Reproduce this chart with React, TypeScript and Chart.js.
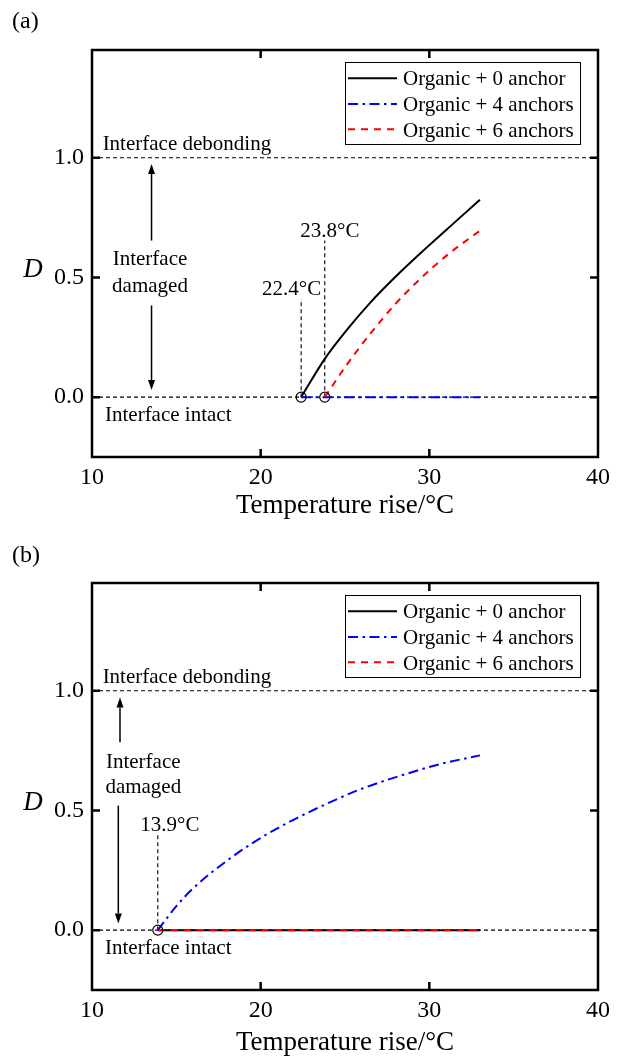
import React, { useEffect, useRef } from "react";
import { Chart, registerables } from "chart.js";

Chart.register(...registerables);

const SERIF = '"Liberation Serif", "Times New Roman", serif';

// ---------- shared labels / axes ----------
const legendLabels = ["Organic + 0 anchor", "Organic + 4 anchors", "Organic + 6 anchors"];
const xTicks = [10, 20, 30, 40];
const yTicks = [0, 0.5, 1.0];
const thresholds = [0, 1.0];
const xTitle = "Temperature rise/°C";
const yTitle = "D";

// ---------- panel (a) data ----------
const aBlackT = [22.4, 23.8, 25.1, 26.5, 28.1, 30.0, 31.5, 33.0];
const aBlackD = [0, 0.16, 0.28, 0.395, 0.51, 0.635, 0.73, 0.825];
const aBlueT = [22.4, 33.0];
const aBlueD = [0, 0];
const aRedT = [23.8, 25.1, 26.5, 28.0, 29.4, 31.0, 32.6, 33.0];
const aRedD = [0, 0.135, 0.265, 0.39, 0.49, 0.59, 0.675, 0.695];
const aOnsetT = [22.4, 23.8];
const aOnsetTop = [0.41, 0.654];

// ---------- panel (b) data ----------
const bBlackT = [13.9, 33.0];
const bBlackD = [0, 0];
const bBlueT = [13.9, 15.0, 16.0, 18.0, 20.0, 22.0, 24.3, 25.9, 28.6, 30.6, 33.0];
const bBlueD = [0, 0.1, 0.175, 0.29, 0.385, 0.463, 0.54, 0.588, 0.652, 0.693, 0.73];
const bRedT = [13.9, 33.0];
const bRedD = [0, 0];
const bOnsetT = [13.9];
const bOnsetTop = [0.396];

// ---------- styles ----------
const seriesColors = ["#000000", "#0000ff", "#ff0000"];
const seriesDashes: number[][] = [[], [10, 4.5, 2.5, 4.5], [7, 6]];

type Panel = {
  tag: string;
  top: number;
  canvasH: number;
  plotTop: number;
  plotBottom: number;
  titlePad: number;
  tagTop: number;
  t: number[][];
  d: number[][];
  onsetT: number[];
  onsetTop: number[];
  onsetLabel: [number, number][];
  damaged: [number, number, number]; // x, line1 y, line2 y
  up: [number, number, number]; // x, from, to
  down: [number, number, number];
};

const panels: Panel[] = [
  {
    tag: "(a)",
    top: 0,
    canvasH: 530,
    plotTop: 50,
    plotBottom: 457,
    titlePad: 8,
    tagTop: 7,
    t: [aBlackT, aBlueT, aRedT],
    d: [aBlackD, aBlueD, aRedD],
    onsetT: aOnsetT,
    onsetTop: aOnsetTop,
    onsetLabel: [
      [21.84, 0.449],
      [24.1, 0.692],
    ],
    damaged: [13.44, 0.574, 0.464],
    up: [13.53, 0.654, 0.974],
    down: [13.53, 0.383, 0.03],
  },
  {
    tag: "(b)",
    top: 530,
    canvasH: 529,
    plotTop: 53,
    plotBottom: 460,
    titlePad: 0,
    tagTop: 11,
    t: [bBlackT, bBlueT, bRedT],
    d: [bBlackD, bBlueD, bRedD],
    onsetT: bOnsetT,
    onsetTop: bOnsetTop,
    onsetLabel: [[14.62, 0.4375]],
    damaged: [13.04, 0.7, 0.595],
    up: [11.66, 0.785, 0.972],
    down: [11.56, 0.52, 0.028],
  },
];

function pts(t: number[], d: number[]) {
  return t.map((x, i) => ({ x, y: d[i] }));
}

function arrow(ctx: CanvasRenderingContext2D, x: number, y1: number, y2: number) {
  const sign = y2 > y1 ? 1 : -1;
  const hl = 10;
  ctx.beginPath();
  ctx.moveTo(x, y1);
  ctx.lineTo(x, y2 - sign * hl);
  ctx.stroke();
  ctx.beginPath();
  ctx.moveTo(x, y2);
  ctx.lineTo(x - 3.5, y2 - sign * hl);
  ctx.lineTo(x + 3.5, y2 - sign * hl);
  ctx.closePath();
  ctx.fill();
}

function decorPlugin(p: Panel) {
  return {
    id: "decor",
    afterDatasetsDraw(chart: any) {
      const ctx: CanvasRenderingContext2D = chart.ctx;
      const { left, right, top, bottom } = chart.chartArea;
      const xs = chart.scales.x;
      const ys = chart.scales.y;
      const X = (v: number) => xs.getPixelForValue(v);
      const Y = (v: number) => ys.getPixelForValue(v);
      ctx.save();
      ctx.setLineDash([]);
      ctx.strokeStyle = "#000";
      ctx.fillStyle = "#000";

      // frame
      ctx.lineWidth = 2.5;
      ctx.strokeRect(left, top, right - left, bottom - top);
      // inward ticks (mirrored)
      const tl = 8;
      ctx.beginPath();
      xTicks
        .filter((v) => v > xs.min && v < xs.max)
        .forEach((v) => {
          const px = X(v);
          ctx.moveTo(px, bottom);
          ctx.lineTo(px, bottom - tl);
          ctx.moveTo(px, top);
          ctx.lineTo(px, top + tl);
        });
      yTicks.forEach((v) => {
        const py = Y(v);
        ctx.moveTo(left, py);
        ctx.lineTo(left + tl, py);
        ctx.moveTo(right, py);
        ctx.lineTo(right - tl, py);
      });
      ctx.stroke();

      // y title (upright italic)
      ctx.font = `italic 27px ${SERIF}`;
      ctx.textAlign = "center";
      ctx.textBaseline = "middle";
      ctx.fillText(yTitle, 33, top + 220);

      // annotations
      ctx.font = `21px ${SERIF}`;
      ctx.textAlign = "left";
      ctx.fillText("Interface debonding", X(10.63), Y(1.054));
      ctx.fillText("Interface intact", X(10.77), Y(-0.075));
      ctx.textAlign = "center";
      ctx.fillText("Interface", X(p.damaged[0]), Y(p.damaged[1]));
      ctx.fillText("damaged", X(p.damaged[0]), Y(p.damaged[2]));
      p.onsetT.forEach((t, i) => {
        const [lx, ly] = p.onsetLabel[i];
        ctx.fillText(`${t.toFixed(1)}°C`, X(lx), Y(ly));
      });
      ctx.lineWidth = 1.5;
      arrow(ctx, X(p.up[0]), Y(p.up[1]), Y(p.up[2]));
      arrow(ctx, X(p.down[0]), Y(p.down[1]), Y(p.down[2]));

      // legend
      const bx = 345,
        bw = 235,
        by = top + 12,
        bh = 82;
      ctx.fillStyle = "#fff";
      ctx.fillRect(bx, by, bw, bh);
      ctx.lineWidth = 1;
      ctx.strokeStyle = "#000";
      ctx.strokeRect(bx + 0.5, by + 0.5, bw, bh);
      const lineY = [28.3, 54, 79.3];
      const textY = [35, 60.7, 86.7];
      legendLabels.forEach((lab, i) => {
        ctx.beginPath();
        ctx.strokeStyle = seriesColors[i];
        ctx.lineWidth = 2;
        ctx.setLineDash(seriesDashes[i]);
        ctx.moveTo(348, top + lineY[i]);
        ctx.lineTo(397, top + lineY[i]);
        ctx.stroke();
        ctx.setLineDash([]);
        ctx.fillStyle = "#000";
        ctx.font = `21px ${SERIF}`;
        ctx.textAlign = "left";
        ctx.textBaseline = "alphabetic";
        ctx.fillText(lab, 403, top + textY[i]);
      });
      ctx.restore();
    },
  };
}

function buildConfig(p: Panel): any {
  const datasets: any[] = [];
  // onset circles (on top)
  datasets.push({
    data: pts(p.onsetT, p.onsetT.map(() => 0)),
    showLine: false,
    pointRadius: 5,
    pointStyle: "circle",
    pointBackgroundColor: "rgba(0,0,0,0)",
    pointBorderColor: "#000",
    pointBorderWidth: 1.2,
  });
  // curves: red, blue, black (lower index drawn on top)
  [2, 1, 0].forEach((k) => {
    datasets.push({
      label: legendLabels[k],
      data: pts(p.t[k], p.d[k]),
      borderColor: seriesColors[k],
      borderWidth: 2,
      borderDash: seriesDashes[k],
      pointRadius: 0,
      fill: false,
      cubicInterpolationMode: "monotone",
    });
  });
  // onset vertical guide lines
  p.onsetT.forEach((t, i) => {
    datasets.push({
      data: pts([t, t], [0, p.onsetTop[i]]),
      borderColor: "#000",
      borderWidth: 1.1,
      borderDash: [4, 3],
      pointRadius: 0,
    });
  });
  // threshold lines
  thresholds.forEach((v) => {
    datasets.push({
      data: pts([xTicks[0], xTicks[xTicks.length - 1]], [v, v]),
      borderColor: "#000",
      borderWidth: 1.1,
      borderDash: [4, 3],
      pointRadius: 0,
    });
  });

  return {
    type: "line",
    data: { datasets },
    options: {
      animation: false,
      responsive: false,
      maintainAspectRatio: false,
      layout: { padding: { top: p.plotTop, right: 24, left: 0, bottom: 0 } },
      plugins: { legend: { display: false }, tooltip: { enabled: false }, title: { display: false } },
      scales: {
        x: {
          type: "linear",
          min: xTicks[0],
          max: xTicks[xTicks.length - 1],
          position: "bottom",
          afterBuildTicks: (s: any) => {
            s.ticks = xTicks.map((v) => ({ value: v }));
          },
          afterFit: (s: any) => {
            s.height = p.canvasH - p.plotBottom;
          },
          ticks: {
            color: "#000",
            font: { family: SERIF, size: 24 },
            padding: 6,
            maxRotation: 0,
            callback: (v: any) => String(v),
          },
          grid: { display: false, drawTicks: false },
          border: { display: false },
          title: {
            display: true,
            text: xTitle,
            color: "#000",
            font: { family: SERIF, size: 27 },
            padding: { top: 0, bottom: p.titlePad },
          },
        },
        y: {
          type: "linear",
          min: -0.25,
          max: 1.45,
          afterBuildTicks: (s: any) => {
            s.ticks = yTicks.map((v) => ({ value: v }));
          },
          afterFit: (s: any) => {
            s.width = 92;
          },
          ticks: {
            color: "#000",
            font: { family: SERIF, size: 24 },
            padding: 8,
            callback: (v: any) => Number(v).toFixed(1),
          },
          grid: { display: false, drawTicks: false },
          border: { display: false },
        },
      },
    },
    plugins: [decorPlugin(p)],
  };
}

function PanelChart({ p }: { p: Panel }) {
  const ref = useRef<HTMLCanvasElement>(null);
  useEffect(() => {
    if (!ref.current) return;
    const chart = new Chart(ref.current, buildConfig(p));
    return () => chart.destroy();
  }, [p]);
  return (
    <div style={{ position: "absolute", left: 0, top: p.top, width: 622, height: p.canvasH }}>
      <canvas
        ref={ref}
        width={622}
        height={p.canvasH}
        style={{ display: "block", width: 622, height: p.canvasH }}
      />
      <div
        style={{
          position: "absolute",
          left: 12,
          top: p.tagTop,
          fontFamily: SERIF,
          fontSize: 24,
          lineHeight: "26px",
          color: "#000",
        }}
      >
        {p.tag}
      </div>
    </div>
  );
}

export default function App() {
  return (
    <div
      style={{
        position: "absolute",
        left: 0,
        top: 0,
        width: 622,
        height: 1059,
        background: "#fff",
        overflow: "hidden",
      }}
    >
      {panels.map((p) => (
        <PanelChart key={p.tag} p={p} />
      ))}
    </div>
  );
}
